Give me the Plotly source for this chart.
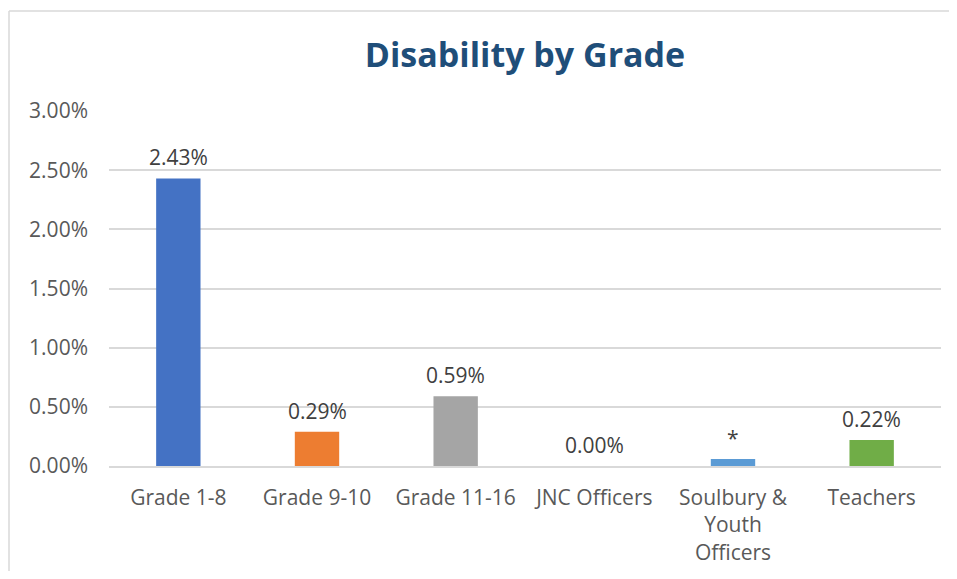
import plotly.graph_objects as go

categories = ["Grade 1-8", "Grade 9-10", "Grade 11-16", "JNC Officers", "Soulbury &<br>Youth<br>Officers", "Teachers"]
values = [0.0243, 0.0029, 0.0059, 0.0, 0.0006, 0.0022]
labels = ["2.43%", "0.29%", "0.59%", "0.00%", "*", "0.22%"]
colors = ["#4472C4", "#ED7D31", "#A5A5A5", "#FFC000", "#5B9BD5", "#70AD47"]
ytickvals = [0, 0.005, 0.01, 0.015, 0.02, 0.025, 0.03]
yticktext = ["0.00%", "0.50%", "1.00%", "1.50%", "2.00%", "2.50%", "3.00%"]

FONT = "Open Sans"
FS = 21

fig = go.Figure()
fig.add_trace(go.Bar(x=categories, y=values, marker=dict(color=colors, line=dict(width=0)),
                     width=0.32, hoverinfo="skip"))

for c, v, t in zip(categories, values, labels):
    fig.add_annotation(x=c, y=v, text=t, showarrow=False, yanchor="bottom", yshift=5,
                       font=dict(family=FONT, size=FS, color="#404040"))

# page body has an 8px margin on every side; keep the figure inside the window
OFF = 8
W, H = 957 - 2 * OFF, 579 - 2 * OFF
L, T = 109 - OFF, 111 - OFF
R = W - (941 - OFF)
B = H - (466 - OFF)
pw = W - L - R
ph = H - T - B

bx = (9 - OFF - L) / pw
by = (H - B - (11 - OFF)) / ph
fig.add_shape(type="line", xref="paper", yref="paper", x0=bx, x1=(W - L) / pw, y0=by, y1=by,
              line=dict(color="#D9D9D9", width=1.5), layer="below")
fig.add_shape(type="line", xref="paper", yref="paper", x0=bx, x1=bx, y0=by, y1=-(H - T - ph) / ph,
              line=dict(color="#D9D9D9", width=1.5), layer="below")

fig.update_layout(
    width=W, height=H,
    margin=dict(l=L, r=R, t=T, b=B, autoexpand=False),
    paper_bgcolor="white", plot_bgcolor="white",
    showlegend=False,
    title=dict(text="<b>Disability by Grade</b>", x=0.5, xanchor="center", xref="paper",
               y=1 - (55 - OFF) / H, yanchor="middle",
               font=dict(family=FONT, size=34, color="#1F4E79")),
    bargap=0.68,
    xaxis=dict(showgrid=False, showline=True, linecolor="#D9D9D9", linewidth=1.5,
               ticks="", ticklabelstandoff=12, automargin=False,
               tickfont=dict(family=FONT, size=FS, color="#595959")),
    yaxis=dict(range=[0, 0.03], tickvals=ytickvals, ticktext=yticktext,
               showgrid=True, gridcolor="#D9D9D9", gridwidth=1.5, automargin=False,
               zeroline=False, showline=False, ticks="", ticklabelstandoff=20,
               tickfont=dict(family=FONT, size=FS, color="#595959")),
)

fig.write_html("out.html")
